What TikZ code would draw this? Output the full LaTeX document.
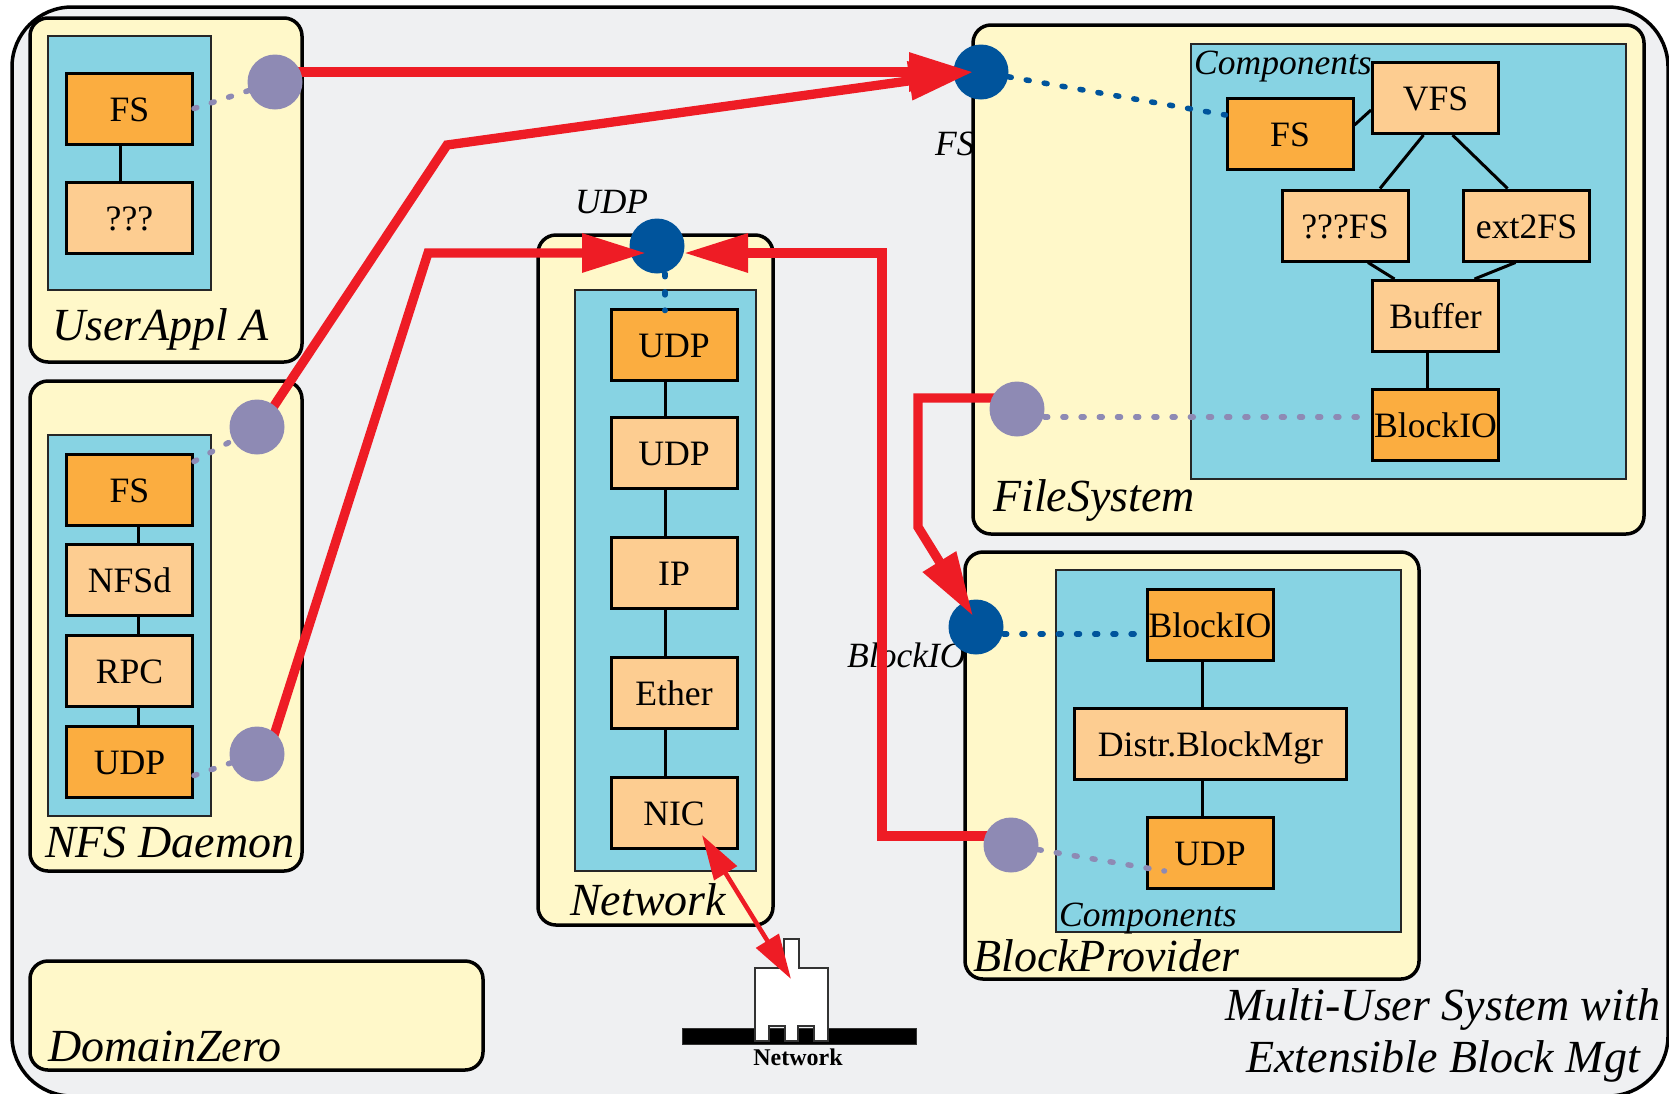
\documentclass[tikz,border=0pt]{standalone}
\usepackage{fontspec}
\setmainfont{Liberation Serif}
\usetikzlibrary{arrows.meta}
\pgfdeclarelayer{ports}
\pgfsetlayers{main,ports}
\definecolor{sysgrey}{HTML}{EFF0F2}
\definecolor{domyellow}{HTML}{FFF8C9}
\definecolor{compteal}{HTML}{87D3E3}
\definecolor{ifaceorange}{HTML}{FBAD40}
\definecolor{implorange}{HTML}{FDCD91}
\definecolor{portlilac}{HTML}{8E8AB4}
\definecolor{portblue}{HTML}{00549C}
\definecolor{wirered}{HTML}{EE1C25}

\begin{document}
\begin{tikzpicture}[
        x=1pt, y=-1pt,
        sysbox/.style={draw=black, line width=3.5, fill=sysgrey, rounded corners=60},
        dombox/.style={draw=black, line width=3.5, fill=domyellow, rounded corners=18},
        compbox/.style={draw=black!85, line width=2, fill=compteal},
        iface/.style={draw=black, line width=3, fill=ifaceorange, minimum width=126, minimum height=71,
            inner sep=0, text height=25, text depth=0, font=\fontsize{35.7}{36}\selectfont},
        impl/.style={iface, fill=implorange},
        lilacport/.style={circle, fill=portlilac, minimum size=55, inner sep=0},
        blueport/.style={circle, fill=portblue, minimum size=55, inner sep=0},
        bigname/.style={anchor=base west, inner sep=0, font=\fontsize{46}{46}\selectfont\itshape},
        smallname/.style={anchor=base west, inner sep=0, font=\fontsize{35.5}{36}\selectfont\itshape},
        link/.style={draw=black, line width=3},
        lilacdots/.style={draw=portlilac, line width=5.5, line cap=round, dash pattern=on 3pt off 15.2pt},
        bluedots/.style={draw=portblue, line width=5.5, line cap=round, dash pattern=on 3pt off 15.2pt},
        wire/.style={->, draw=wirered, line width=9.3},
        >={Triangle[length=64pt, width=37pt]}
    ]

    \useasboundingbox (0,0) rectangle (1669,1093);

    % System frame
    \node[sysbox, minimum width=1656, minimum height=1089] (Sys) at (840,551.5) {};

    % Domains
    \node[dombox, minimum width=272, minimum height=344] (UserAppl) at (166,190) {};
    \node[dombox, minimum width=272, minimum height=490] (NFSd) at (166,626) {};
    \node[dombox, minimum width=235, minimum height=690] (Net) at (655.5,580) {};
    \node[dombox, minimum width=671, minimum height=509] (FileSys) at (1308.5,279.5) {};
    \node[dombox, minimum width=454, minimum height=427] (BlockProv) at (1192,765.5) {};
    \node[dombox, minimum width=453, minimum height=109] (DomZero) at (256.5,1015.5) {};

    % Component areas
    \node[compbox, minimum width=163, minimum height=254] (UserComp) at (129.5,163) {};
    \node[compbox, minimum width=163, minimum height=381] (NFSComp) at (129.5,625.5) {};
    \node[compbox, minimum width=181, minimum height=581] (NetComp) at (665,580.5) {};
    \node[compbox, minimum width=435, minimum height=435] (FileComp) at (1408.5,261.5) {};
    \node[compbox, minimum width=345, minimum height=362] (ProvComp) at (1228.5,751) {};

    % Names
    \node[bigname] (nUser) at (52,340) {UserAppl A};
    \node[bigname] (nNFS) at (45,857) {NFS Daemon};
    \node[bigname] (nNet) at (570,915) {Network};
    \node[bigname] (nFile) at (993,511) {FileSystem};
    \node[bigname] (nProv) at (973,971) {BlockProvider};
    \node[bigname] (nZero) at (48,1061) {DomainZero};
    \node[smallname] (nCompF) at (1194,74) {Components};
    \node[smallname] (nCompP) at (1059,926) {Components};
    \node[smallname] (nFS) at (935,155) {FS};
    \node[smallname] (nUDP) at (575,213) {UDP};
    \node[smallname] (nIO) at (847,667) {BlockIO};
    \node[font=\fontsize{46}{52}\selectfont\itshape, align=center, inner sep=0] (nTitle) at (1443,1035)
        {Multi-User System with\\Extensible Block Mgt};

    % User application
    \node[iface] (UF) at (129.5,108.5) {FS};
    \node[impl] (UQ) at (129.5,217.5) {???};
    \draw[link] ([xshift=-9]UF.south) -- ([xshift=-9]UQ.north);

    % NFS daemon
    \node[iface] (DF) at (129.5,489.5) {FS};
    \node[impl] (DN) at (129.5,580) {NFSd};
    \node[impl] (DR) at (129.5,670.5) {RPC};
    \node[iface] (DU) at (129.5,761.5) {UDP};
    \foreach \i/\j in {DF/DN,DN/DR,DR/DU}
        \draw[link] ([xshift=9]\i.south) -- ([xshift=9]\j.north);

    % Network stack
    \node[iface] (NU) at (674,344.5) {UDP};
    \node[impl] (NP) at (674,453) {UDP};
    \node[impl] (NI) at (674,572.5) {IP};
    \node[impl] (NE) at (674,692.5) {Ether};
    \node[impl] (NC) at (674,812.5) {NIC};
    \foreach \i/\j in {NU/NP,NP/NI,NI/NE,NE/NC}
        \draw[link] ([xshift=-9]\i.south) -- ([xshift=-9]\j.north);

    % File system
    \node[iface] (FF) at (1290,134) {FS};
    \node[impl] (FV) at (1435.5,98) {VFS};
    \node[impl] (FQ) at (1345,225.5) {???FS};
    \node[impl] (FE) at (1526.5,225.5) {ext2FS};
    \node[impl] (FB) at (1435.5,316) {Buffer};
    \node[iface] (FI) at (1435.5,425) {BlockIO};
    \draw[link] ([yshift=9]FF.east) -- ([yshift=-12]FV.west);
    \draw[link] ([xshift=-12]FV.south) -- ([xshift=35]FQ.north);
    \draw[link] ([xshift=17]FV.south) -- ([xshift=-19]FE.north);
    \draw[link] ([xshift=23]FQ.south) -- ([xshift=-41]FB.north);
    \draw[link] ([xshift=-11]FE.south) -- ([xshift=39]FB.north);
    \draw[link] ([xshift=-8]FB.south) -- ([xshift=-8]FI.north);

    % Block provider
    \node[iface] (PI) at (1210,625) {BlockIO};
    \node[impl, minimum width=272] (PD) at (1210.5,743.5) {Distr.BlockMgr};
    \node[iface] (PU) at (1210,853) {UDP};
    \draw[link] ([xshift=-8]PI.south) -- ([xshift=-8.5]PD.north);
    \draw[link] ([xshift=-8.5]PD.south) -- ([xshift=-8]PU.north);

    % Ports
    \begin{pgfonlayer}{ports}
        \node[lilacport] (pUser) at (275,82) {};
        \node[lilacport] (pNFSfs) at (257,427) {};
        \node[lilacport] (pNFSudp) at (257,754) {};
        \node[lilacport] (pFileIO) at (1017,409) {};
        \node[lilacport] (pProvUDP) at (1011,845) {};
    \end{pgfonlayer}
    \node[blueport] (pFS) at (981,72) {};
    \node[blueport] (pUDP) at (657,246) {};
    \node[blueport] (pIO) at (976,627) {};

    % Port to component
    \draw[lilacdots] (UF.east) -- (pUser);
    \draw[lilacdots] ([yshift=28]DF.east) -- (pNFSfs);
    \draw[lilacdots] ([yshift=-14]DU.east) -- (pNFSudp);
    \draw[lilacdots] ([yshift=-8]pFileIO.east) -- ([yshift=8]FI.west);
    \draw[lilacdots] (pProvUDP) -- ([xshift=19,yshift=-18]PU.west);
    \draw[bluedots] (pFS) -- ([yshift=19]FF.west);
    \draw[bluedots] ([xshift=8]pUDP.south) -- ([xshift=-9,yshift=-3]NU.north);
    \draw[bluedots] ([yshift=-7]pIO.east) -- ([xshift=3,yshift=-9]PI.west);

    % Bindings
    \coordinate (bendFS) at (447,145);
    \coordinate (bendUDP) at (428,253);
    \coordinate (bendProv) at (882,253);
    \coordinate (bendFile) at (918,527);
    \draw[wire] (pUser.center |- pFS) -- ([xshift=-8]pFS.center);
    \draw[wire] ([xshift=3]pNFSfs.center) -- (bendFS) -- ([xshift=-8]pFS.center);
    \draw[wire] ([xshift=11]pNFSudp.center) -- (bendUDP) -- ([xshift=-11,yshift=-7]pUDP.center);
    \draw[wire] ([yshift=9]pProvUDP.center) -| (bendProv) -- ([xshift=27,yshift=-7]pUDP.center);
    \draw[wire] ([yshift=11]pFileIO.center) -| (bendFile) -- ([xshift=-3,yshift=11]pIO.center);

    % Attached network
    \node[fill=black, draw=black!80, minimum width=234, minimum height=16, inner sep=0] (NetBar) at (799,1036) {};
    \draw[draw=black!80, line width=1.5, fill=white] (755,968) -- (784,968) -- (784,939) -- (799,939) -- (799,968)
        -- (828,968) -- (828,1041) -- (814,1041) -- (814,1026) -- (798,1026) -- (798,1041)
        -- (785,1041) -- (785,1026) -- (769,1026) -- (769,1041) -- (755,1041) -- cycle;
    \node[inner sep=0, font=\fontsize{24}{24}\selectfont\bfseries] (NetName) at (798,1057) {Network};
    \coordinate (nicTap) at (702,835);
    \coordinate (netTap) at (791,979);
    \draw[{Triangle[length=45pt, width=26pt]}-{Triangle[length=45pt, width=26pt]}, draw=wirered, line width=4.5] (nicTap) -- (netTap);

\end{tikzpicture}
\end{document}
